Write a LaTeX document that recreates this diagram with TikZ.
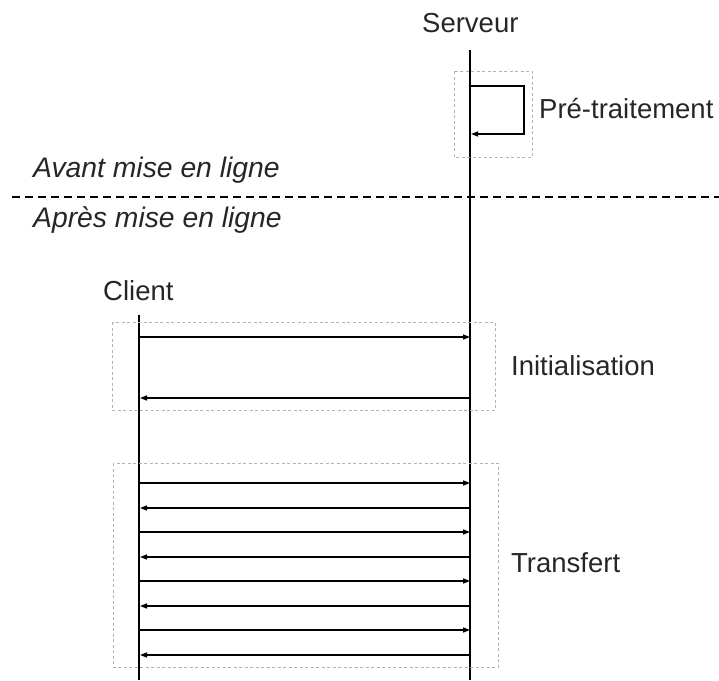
\documentclass[tikz,border=0pt]{standalone}
\usepackage{fontspec}
\setmainfont{Liberation Sans}
\usetikzlibrary{arrows.meta}
\begin{document}
\begin{tikzpicture}[x=1pt,y=-1pt,
  txt/.style={anchor=base west,inner sep=0pt,font=\fontsize{27.5}{33}\selectfont,text=black!85},
  itxt/.style={txt,font=\fontsize{28.3}{34}\selectfont\itshape},
  lifeline/.style={line width=1.5pt,black},
  msg/.style={line width=1.4pt,black,-{Triangle[length=7pt,width=5pt]}},
  group/.style={draw=black!30,line width=1pt,dash pattern=on 3pt off 2.5pt},
  phase/.style={line width=1.3pt,black,dash pattern=on 8pt off 5pt}]
\useasboundingbox (0,0) rectangle (719,680);

% lifeline heads
\node[txt] (srv) at (422,32) {Serveur};
\node[txt] (cli) at (103,300) {Client};
\coordinate (s0) at (470,50);
\coordinate (s1) at (470,680);
\coordinate (c0) at (139,315);
\coordinate (c1) at (139,680);
\draw[lifeline] (s0) -- (s1);
\draw[lifeline] (c0) -- (c1);

% pre-processing on the server
\draw[group] (454,71) rectangle (532,157);
\coordinate (p0) at (470,86);
\coordinate (p1) at (471,134);
\draw[msg] (p0) -- (524,86) -- (524,134) -- (p1);
\node[txt] (pre) at (539,118) {Pré-traitement};

% before / after going online
\coordinate (d0) at (12,197);
\coordinate (d1) at (719,197);
\draw[phase] (d0) -- (d1);
\node[itxt] (avant) at (33,177) {Avant mise en ligne};
\node[itxt] (apres) at (33,227) {Après mise en ligne};

% initialisation exchange
\draw[group] (112,322) rectangle (495,410);
\foreach \y/\d in {337/r,398/l}{
  \coordinate (ci\y) at (140,\y);
  \coordinate (si\y) at (470,\y);
  \if\d r \draw[msg] (ci\y) -- (si\y); \else \draw[msg] (si\y) -- (ci\y); \fi
}
\node[txt] (init) at (511,375) {Initialisation};

% transfer exchange
\draw[group] (113,463) rectangle (498,667);
\foreach \y/\d in {483/r,508/l,532/r,557/l,581/r,606/l,630/r,655/l}{
  \coordinate (ct\y) at (140,\y);
  \coordinate (st\y) at (470,\y);
  \if\d r \draw[msg] (ct\y) -- (st\y); \else \draw[msg] (st\y) -- (ct\y); \fi
}
\node[txt] (trans) at (511,572) {Transfert};
\end{tikzpicture}
\end{document}
